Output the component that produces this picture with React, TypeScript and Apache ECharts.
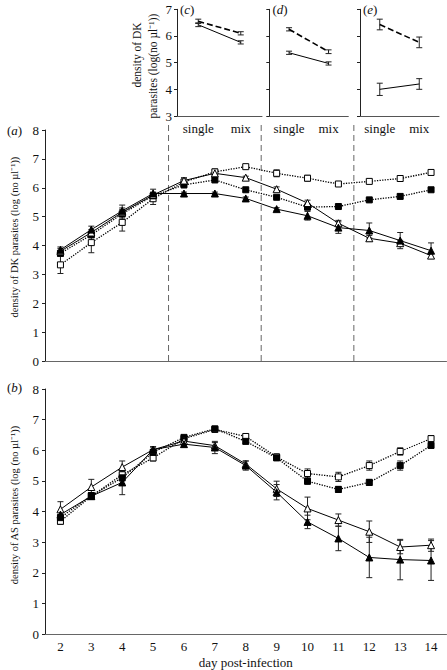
import React, { useEffect, useRef } from 'react';
import * as echarts from 'echarts';

const FONT = 'Liberation Serif';

const days = [2, 3, 4, 5, 6, 7, 8, 9, 10, 11, 12, 13, 14];
const dayLabels = days.map(String);
const splitDays = [5.5, 8.5, 11.5];

// panel (a): DK parasites
const aOpenTri = [3.8, 4.45, 5.15, 5.75, 6.25, 6.5, 6.35, 5.95, 5.47, 4.77, 4.25, 4.08, 3.65];
const aFillTri = [3.85, 4.55, 5.2, 5.8, 5.8, 5.8, 5.63, 5.26, 5.03, 4.62, 4.52, 4.17, 3.82];
const aOpenSq = [3.33, 4.1, 4.8, 5.62, 6.2, 6.55, 6.73, 6.5, 6.33, 6.13, 6.22, 6.32, 6.53];
const aFillSq = [3.73, 4.37, 5.1, 5.72, 6.1, 6.27, 5.93, 5.67, 5.33, 5.35, 5.58, 5.7, 5.93];
const aOpenTriE = [0.1, 0.1, 0.15, 0.1, 0.1, 0.1, 0.05, 0.08, 0.1, 0.1, 0.1, 0.1, 0.1];
const aFillTriE = [0.1, 0.12, 0.2, 0.15, 0.05, 0.05, 0.05, 0.05, 0.15, 0.2, 0.26, 0.28, 0.27];
const aOpenSqE = [0.3, 0.35, 0.3, 0.2, 0.1, 0.1, 0.05, 0.12, 0.1, 0.05, 0.05, 0.08, 0.08];
const aFillSqE = [0.1, 0.1, 0.15, 0.1, 0.1, 0.05, 0.05, 0.05, 0.1, 0.05, 0.05, 0.08, 0.05];

// panel (b): AS parasites
const bOpenTri = [4.07, 4.8, 5.45, 6.02, 6.3, 6.15, 5.55, 4.74, 4.1, 3.72, 3.34, 2.84, 2.9];
const bFillTri = [3.9, 4.5, 4.95, 6.02, 6.2, 6.09, 5.5, 4.63, 3.66, 3.12, 2.5, 2.43, 2.4];
const bOpenSq = [3.68, 4.5, 5.2, 5.75, 6.38, 6.68, 6.45, 5.78, 5.24, 5.13, 5.5, 5.96, 6.38];
const bFillSq = [3.8, 4.52, 5.1, 5.93, 6.42, 6.7, 6.29, 5.75, 4.99, 4.72, 4.95, 5.5, 6.16];
const bOpenTriE = [0.25, 0.25, 0.2, 0.1, 0.1, 0.1, 0.1, 0.25, 0.37, 0.2, 0.35, 0.22, 0.2];
const bFillTriE = [0.1, 0.1, 0.4, 0.08, 0.08, 0.2, 0.15, 0.25, 0.22, 0.4, 0.66, 0.66, 0.65];
const bOpenSqE = [0.1, 0.1, 0.2, 0.1, 0.05, 0.05, 0.08, 0.1, 0.15, 0.15, 0.15, 0.12, 0.1];
const bFillSqE = [0.1, 0.1, 0.2, 0.1, 0.05, 0.05, 0.08, 0.08, 0.1, 0.1, 0.1, 0.15, 0.1];

// insets (c), (d), (e)
const insetGroups = ['single', 'mix'];
const cDashed = [6.55, 6.1];
const cSolid = [6.42, 5.76];
const cDashedE = [0.08, 0.06];
const cSolidE = [0.07, 0.06];
const dDashed = [6.25, 5.41];
const dSolid = [5.37, 4.97];
const dDashedE = [0.06, 0.07];
const dSolidE = [0.06, 0.06];
const eDashed = [6.43, 5.76];
const eSolid = [4.0, 4.2];
const eDashedE = [0.2, 0.2];
const eSolidE = [0.23, 0.2];

const errRender = (cap: number) => (params: any, api: any) => {
  const x = api.value(0);
  const y = api.value(1);
  const e = api.value(2);
  const t = api.coord([x, y + e]);
  const b = api.coord([x, y - e]);
  const st = { stroke: '#222', lineWidth: 1 };
  return {
    type: 'group',
    children: [
      { type: 'line', shape: { x1: t[0], y1: t[1], x2: b[0], y2: b[1] }, style: st },
      { type: 'line', shape: { x1: t[0] - cap, y1: t[1], x2: t[0] + cap, y2: t[1] }, style: st },
      { type: 'line', shape: { x1: b[0] - cap, y1: b[1], x2: b[0] + cap, y2: b[1] }, style: st },
    ],
  };
};

const errSeries = (xi: number, yi: number, xs: any[], vals: number[], errs: number[], cap = 3) => ({
  type: 'custom',
  xAxisIndex: xi,
  yAxisIndex: yi,
  encode: { x: 0, y: 1 },
  data: xs.map((x, i) => [x, vals[i], errs[i]]),
  renderItem: errRender(cap),
  z: 1,
  silent: true,
});

const markerSeries = (xi: number, yi: number, vals: number[], kind: string) => {
  const tri = kind.includes('Tri');
  const open = kind.startsWith('open');
  return {
    type: 'line',
    xAxisIndex: xi,
    yAxisIndex: yi,
    data: days.map((d, i) => [d, vals[i]]),
    symbol: tri ? 'triangle' : 'rect',
    symbolSize: tri ? 7 : 6,
    lineStyle: { color: '#000', width: tri ? 1 : 1.3, type: tri ? 'solid' : 'dotted' },
    itemStyle: { color: open ? '#fff' : '#000', borderColor: '#000', borderWidth: 1 },
    z: 3,
    silent: true,
  };
};

const insetLine = (xi: number, yi: number, vals: number[], dashed: boolean) => ({
  type: 'line',
  xAxisIndex: xi,
  yAxisIndex: yi,
  data: vals,
  symbol: 'none',
  lineStyle: { color: '#000', width: dashed ? 1.6 : 1, type: dashed ? [6, 3] : 'solid' },
  z: 3,
  silent: true,
});

const mainY = (grid: number) => ({
  type: 'value',
  gridIndex: grid,
  min: 0,
  max: 8,
  interval: 1,
  axisLine: { show: true, lineStyle: { color: '#222', width: 1 } },
  axisTick: { show: true, length: 3, lineStyle: { color: '#222' } },
  axisLabel: { fontFamily: FONT, fontSize: 13, color: '#111', margin: 6 },
  splitLine: { show: false },
});

const insetY = (grid: number, labels: boolean) => ({
  type: 'value',
  gridIndex: grid,
  min: 3,
  max: 7,
  interval: 1,
  axisLine: { show: true, lineStyle: { color: '#222', width: 1 } },
  axisTick: { show: true, length: 3, lineStyle: { color: '#222' } },
  axisLabel: { show: labels, fontFamily: FONT, fontSize: 13, color: '#111', margin: 5 },
  splitLine: { show: false },
});

const insetX = (grid: number) => ({
  type: 'category',
  gridIndex: grid,
  data: insetGroups,
  boundaryGap: true,
  axisLine: { lineStyle: { color: '#555', width: 1 } },
  axisTick: { length: 3, lineStyle: { color: '#555' } },
  axisLabel: { fontFamily: FONT, fontSize: 13, color: '#111', margin: 6, interval: 0 },
});

const panelLabel = (letter: string, x: number, y: number) => ({
  type: 'text',
  x,
  y,
  style: {
    text: `{n|(}{i|${letter}}{n|)}`,
    fill: '#111',
    verticalAlign: 'middle',
    rich: {
      n: { fontFamily: FONT, fontSize: 13, fill: '#111' },
      i: { fontFamily: FONT, fontSize: 13, fontStyle: 'italic', fill: '#111' },
    },
  },
});

const rotName = (text: string, x: number, y: number, size: number) => ({
  type: 'text',
  x,
  y,
  rotation: Math.PI / 2,
  style: { text, fontFamily: FONT, fontSize: size, fill: '#111', align: 'center', verticalAlign: 'middle' },
});

const option: any = {
  animation: false,
  backgroundColor: '#fff',
  textStyle: { fontFamily: FONT },
  grid: [
    { left: 45, top: 130, width: 401.5, height: 231 },
    { left: 45, top: 389, width: 401.5, height: 246 },
    { left: 177, top: 9.3, width: 85, height: 106.7 },
    { left: 269.3, top: 9.3, width: 79, height: 106.7 },
    { left: 360, top: 9.3, width: 79, height: 106.7 },
  ],
  xAxis: [
    {
      type: 'category', gridIndex: 0, data: dayLabels, boundaryGap: true,
      axisLine: { lineStyle: { color: '#666', width: 1 } },
      axisTick: { length: 3, lineStyle: { color: '#666' } },
      axisLabel: { show: false },
    },
    { type: 'value', gridIndex: 0, min: 1.5, max: 14.5, show: false },
    {
      type: 'category', gridIndex: 1, data: dayLabels, boundaryGap: true,
      axisLine: { lineStyle: { color: '#666', width: 1 } },
      axisTick: { length: 3, lineStyle: { color: '#666' } },
      axisLabel: { fontFamily: FONT, fontSize: 13, color: '#111', margin: 6, interval: 0 },
      name: 'day post-infection', nameLocation: 'middle', nameGap: 22,
      nameTextStyle: { fontFamily: FONT, fontSize: 13, color: '#111' },
    },
    { type: 'value', gridIndex: 1, min: 1.5, max: 14.5, show: false },
    insetX(2),
    insetX(3),
    insetX(4),
  ],
  yAxis: [mainY(0), mainY(1), insetY(2, true), insetY(3, false), insetY(4, false)],
  graphic: [
    rotName('density of DK parasites (log (no µl⁻¹))', 14.5, 237, 10.5),
    rotName('density of AS parasites (log (no µl⁻¹))', 14.5, 505, 10.5),
    rotName('density of DK', 137, 55, 11.5),
    rotName('parasites (log(no µl⁻¹))', 153, 66, 11.5),
    panelLabel('a', 7, 130),
    panelLabel('b', 7, 387),
    panelLabel('c', 180, 9),
    panelLabel('d', 272.5, 9),
    panelLabel('e', 363, 9),
  ],
  series: [
    // dividers in panel (a)
    {
      type: 'custom', xAxisIndex: 1, yAxisIndex: 0, encode: { x: 0, y: 1 },
      data: splitDays.map((d) => [d, 0]),
      silent: true, z: 0,
      renderItem: (params: any, api: any) => {
        const x = api.value(0);
        const p0 = api.coord([x, 0]);
        const p1 = api.coord([x, 8]);
        return {
          type: 'line',
          shape: { x1: p0[0], y1: p0[1], x2: p1[0], y2: p1[1] - 9 },
          style: { stroke: '#666', lineWidth: 1, lineDash: [6, 4] },
        };
      },
    },
    errSeries(1, 0, days, aOpenSq, aOpenSqE),
    errSeries(1, 0, days, aFillSq, aFillSqE),
    errSeries(1, 0, days, aOpenTri, aOpenTriE),
    errSeries(1, 0, days, aFillTri, aFillTriE),
    markerSeries(1, 0, aOpenSq, 'openSq'),
    markerSeries(1, 0, aFillSq, 'fillSq'),
    markerSeries(1, 0, aOpenTri, 'openTri'),
    markerSeries(1, 0, aFillTri, 'fillTri'),
    errSeries(3, 1, days, bOpenSq, bOpenSqE),
    errSeries(3, 1, days, bFillSq, bFillSqE),
    errSeries(3, 1, days, bOpenTri, bOpenTriE),
    errSeries(3, 1, days, bFillTri, bFillTriE),
    markerSeries(3, 1, bOpenSq, 'openSq'),
    markerSeries(3, 1, bFillSq, 'fillSq'),
    markerSeries(3, 1, bOpenTri, 'openTri'),
    markerSeries(3, 1, bFillTri, 'fillTri'),
    // insets
    errSeries(4, 2, [0, 1], cDashed, cDashedE),
    errSeries(4, 2, [0, 1], cSolid, cSolidE),
    insetLine(4, 2, cDashed, true),
    insetLine(4, 2, cSolid, false),
    errSeries(5, 3, [0, 1], dDashed, dDashedE),
    errSeries(5, 3, [0, 1], dSolid, dSolidE),
    insetLine(5, 3, dDashed, true),
    insetLine(5, 3, dSolid, false),
    errSeries(6, 4, [0, 1], eDashed, eDashedE),
    errSeries(6, 4, [0, 1], eSolid, eSolidE),
    insetLine(6, 4, eDashed, true),
    insetLine(6, 4, eSolid, false),
  ],
};

export default function App() {
  const ref = useRef<HTMLDivElement>(null);
  useEffect(() => {
    const chart = echarts.init(ref.current as HTMLDivElement, null, { renderer: 'svg' });
    chart.setOption(option);
    return () => chart.dispose();
  }, []);
  return (
    <div
      ref={ref}
      style={{ position: 'absolute', left: 0, top: 0, width: 447, height: 670 }}
    />
  );
}
